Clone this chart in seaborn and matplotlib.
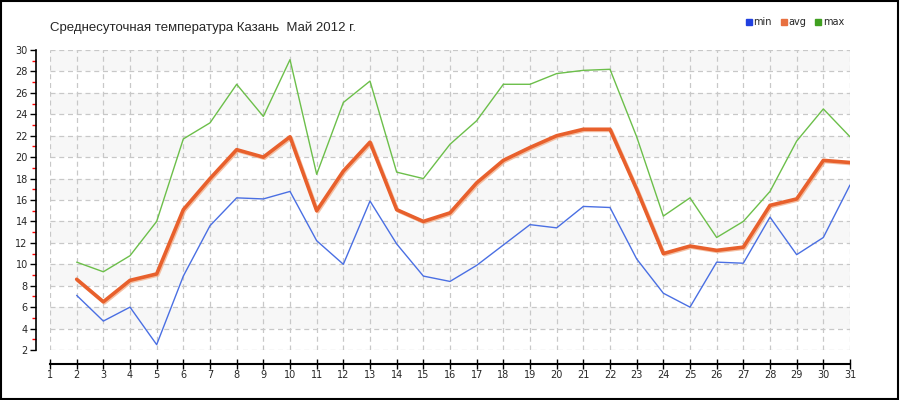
import pandas as pd
import matplotlib
matplotlib.use('Agg')
import matplotlib.pyplot as plt
import matplotlib.patheffects as pe
from matplotlib.lines import Line2D
from matplotlib.patches import Rectangle
import seaborn as sns

# daily temperature, Kazan, May 2012 (day 1 has no data)
days = list(range(2, 32))
t_min = [7.1, 4.7, 6.0, 2.5, 8.9, 13.6, 16.2, 16.1, 16.8, 12.2, 10.0, 15.9, 11.9, 8.9, 8.4,
         9.9, 11.8, 13.7, 13.4, 15.4, 15.3, 10.5, 7.3, 6.0, 10.2, 10.1, 14.4, 10.9, 12.5, 17.4]
t_avg = [8.6, 6.5, 8.5, 9.1, 15.1, 18.0, 20.7, 20.0, 21.9, 15.0, 18.7, 21.4, 15.1, 14.0, 14.8,
         17.6, 19.7, 20.9, 22.0, 22.6, 22.6, 17.0, 11.0, 11.7, 11.3, 11.6, 15.5, 16.1, 19.7, 19.5]
t_max = [10.2, 9.3, 10.8, 14.0, 21.7, 23.2, 26.8, 23.8, 29.1, 18.4, 25.1, 27.1, 18.6, 18.0, 21.2,
         23.4, 26.8, 26.8, 27.8, 28.1, 28.2, 21.9, 14.5, 16.2, 12.5, 14.0, 16.8, 21.5, 24.5, 21.9]
series_names = ['min', 'avg', 'max']
x_ticks = list(range(1, 32))
y_ticks = list(range(2, 31, 2))

df = pd.DataFrame({'day': days, 'min': t_min, 'avg': t_avg, 'max': t_max})

sns.set_style('white')
plt.rcParams['font.family'] = ['DejaVu Sans']

fig = plt.figure(figsize=(9, 4), dpi=100)
ax = fig.add_axes([50 / 900, 50 / 400, 800 / 900, 300 / 400])

# alternating light bands
for lo in range(4, 30, 4):
    ax.axhspan(lo, lo + 2, color='#f7f7f7', zorder=0, lw=0)

sns.lineplot(data=df, x='day', y='max', color='#6cbf4a', linewidth=1.0, ax=ax, zorder=3)
sns.lineplot(data=df, x='day', y='min', color='#4a6fe3', linewidth=1.0, ax=ax, zorder=3)
sns.lineplot(data=df, x='day', y='avg', color='#e8602c', linewidth=2.6, ax=ax, zorder=4,
             path_effects=[pe.SimpleLineShadow(offset=(0.8, -0.8), shadow_color='#f2b08c', alpha=0.8),
                           pe.Normal()])

ax.set_xlim(1, 31)
ax.set_ylim(2, 30)
ax.set_xticks(x_ticks)
ax.set_yticks(y_ticks)
ax.set_yticks(list(range(3, 30, 2)), minor=True)
ax.set_xlabel('')
ax.set_ylabel('')
ax.grid(True, which='major', color='#c8c8c8', linestyle=(0, (4, 3)), linewidth=0.9)
ax.set_axisbelow(True)

for s in ['top', 'right']:
    ax.spines[s].set_visible(False)
ax.spines['left'].set_position(('outward', 10))
ax.spines['bottom'].set_position(('outward', 10))
ax.spines['left'].set_color('black')
ax.spines['bottom'].set_color('black')
ax.spines['left'].set_linewidth(1.2)
ax.spines['bottom'].set_linewidth(1.5)

ax.tick_params(axis='y', which='major', direction='out', length=4, width=1, color='black',
               labelsize=7, pad=2, left=True)
ax.tick_params(axis='y', which='minor', direction='out', length=3, width=1, color='red', left=True)
ax.tick_params(axis='x', which='major', direction='inout', length=7, width=1, color='black',
               labelsize=7, pad=1, bottom=True)

fig.text(50 / 900, 1 - 28 / 400, 'Среднесуточная температура Казань  Май 2012 г.',
         fontsize=9.5, family='Liberation Sans', va='center', ha='left')

handles = [Line2D([], [], marker='s', linestyle='none', markersize=5, color=c)
           for c in ['#2040e0', '#e87040', '#40a020']]
fig.legend(handles, series_names, loc='center', bbox_to_anchor=(795 / 900, 1 - 22 / 400), ncol=3,
           frameon=False, handlelength=0.6, handletextpad=0.2, columnspacing=0.9, fontsize=7)

fig.patches.append(Rectangle((0.001, 0.003), 0.997, 0.994, transform=fig.transFigure,
                             fill=False, edgecolor='black', linewidth=1.5))

fig.savefig('out.png', dpi=100)
